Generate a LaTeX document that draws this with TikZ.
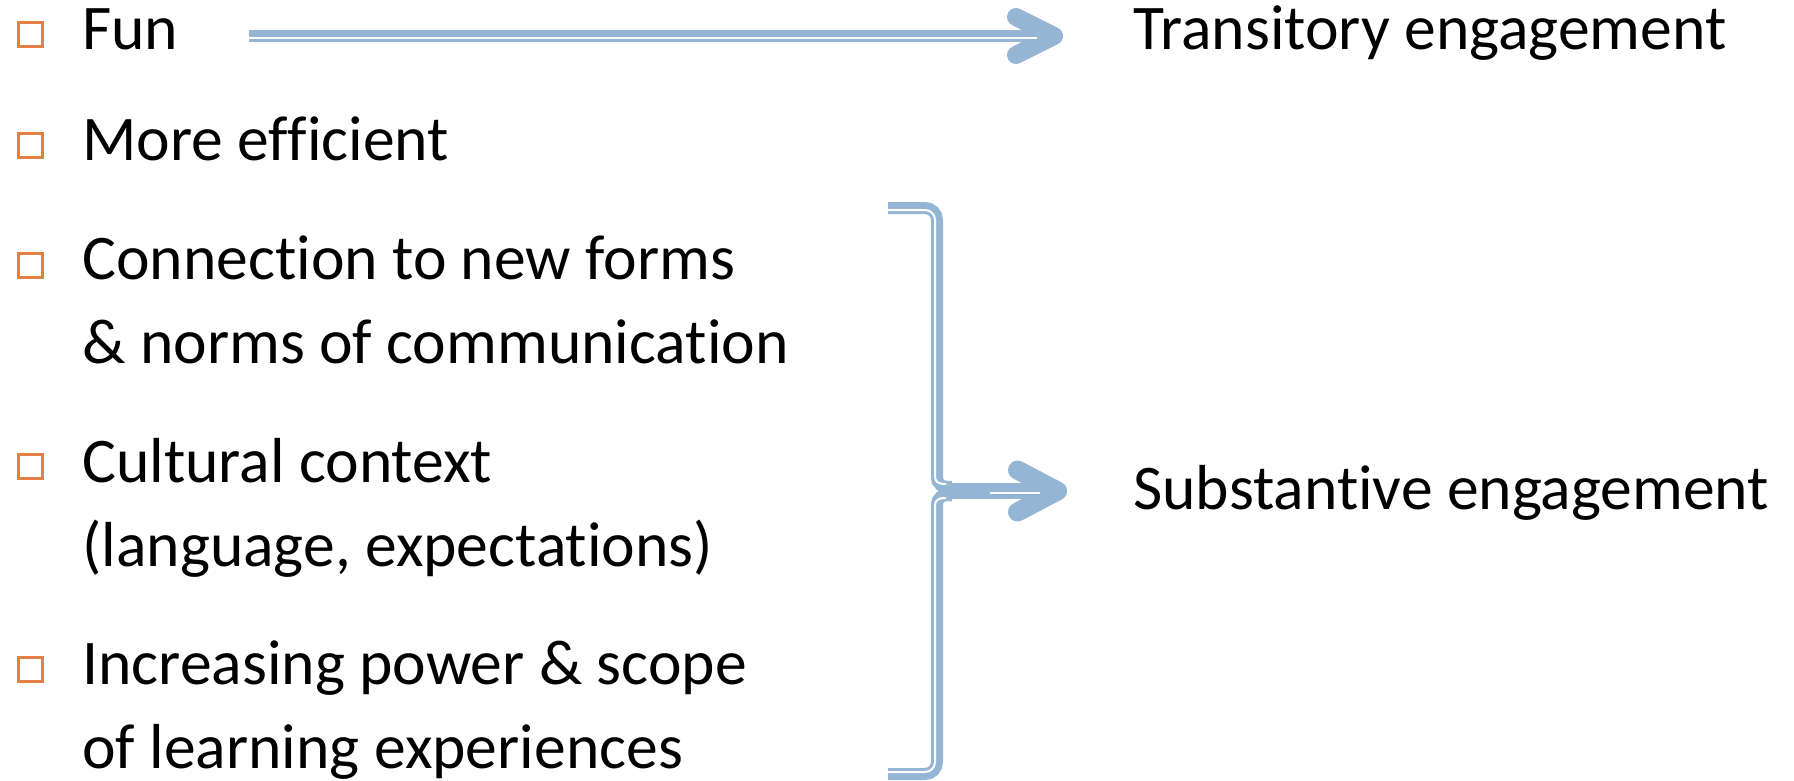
\documentclass[tikz,border=0pt]{standalone}
\usepackage{fontspec}
\setmainfont{Carlito}[Ligatures=NoCommon]
\usepackage{tikz}
\usetikzlibrary{arrows.meta}
\usetikzlibrary{positioning}
\definecolor{lineblue}{RGB}{149,181,213}
\definecolor{bulletorange}{RGB}{228,128,68}
\newcommand{\itemfont}{\fontsize{31.8}{42}\selectfont}
\tikzset{>={Straight Barb[length=19pt, width=19pt, line width=9pt, round]}}

\begin{document}
\begin{tikzpicture}[x=0.5pt, y=-0.5pt,
    item/.style={anchor=base west, inner sep=0pt, align=left, font=\itemfont},
    bullet/.style={draw=bulletorange, line width=1.5pt, minimum size=12pt, inner sep=0pt, anchor=south west},
    band/.style={draw=lineblue, line width=6pt},
    gap/.style={draw=white, line width=1pt}]
    \useasboundingbox (0,0) rectangle (1794,781);
    % the five points (placed by the baseline of their last line)
    \node [item] (fun) at (82,50) {Fun};
    \node [item] (eff) at (82,161) {More efficient};
    \node [item] (conn) at (82,363) {Connection to new forms\\\& norms of communication};
    \node [item] (cult) at (82,566) {Cultural context\\(language, expectations)};
    \node [item] (power) at (82,768) {Increasing power \& scope\\of learning experiences};
    \foreach \pt/\up in {fun/0,eff/0,conn/83,cult/85,power/84}
        \node [bullet] (b-\pt) at ([shift={(-65.5,-1.5-\up)}]\pt.base west) {};
    % the two outcomes
    \node [item] (trans) at (1133,50) {Transitory engagement};
    \node [item] (subst) at (1133,509) {Substantive engagement};
    % fun -> transitory
    \draw [band, ->] ([shift={(70,-14)}]fun.base east) -- ([shift={(-70,-14)}]trans.base west);
    \draw [gap] ([shift={(70,-11.8)}]fun.base east) -- ([shift={(-96,-11.8)}]trans.base west);
    % brace round the last three
    \coordinate (btop) at (888,208);
    \coordinate (bbot) at (888,774);
    \coordinate (bmid) at (945,491);
    \draw [band] (btop) -- (925,208) arc [start angle=-90, end angle=0, radius=12] -- (937,476)
        .. controls (937,485) and (941,487) .. (952,487);
    \draw [band] (bbot) -- (925,774) arc [start angle=90, end angle=0, radius=12] -- (937,506)
        .. controls (937,497) and (941,495) .. (952,495);
    \draw [band, line width=8pt, -{Straight Barb[length=20pt, width=21pt, line width=9.5pt, round]}]
        (bmid) -- ([shift={(-66,-18)}]subst.base west);
    \draw [gap] (888,210) -- (925,210) arc [start angle=-90, end angle=0, radius=10] -- (935,476)
        .. controls (935,482) and (938,484) .. (946,484);
    \draw [gap] (888,772) -- (925,772) arc [start angle=90, end angle=0, radius=10] -- (935,506)
        .. controls (935,500) and (938,498) .. (946,498);
    \draw [gap] ([shift={(-143,-16)}]subst.base west) -- ([shift={(-93,-16)}]subst.base west);
\end{tikzpicture}
\end{document}
